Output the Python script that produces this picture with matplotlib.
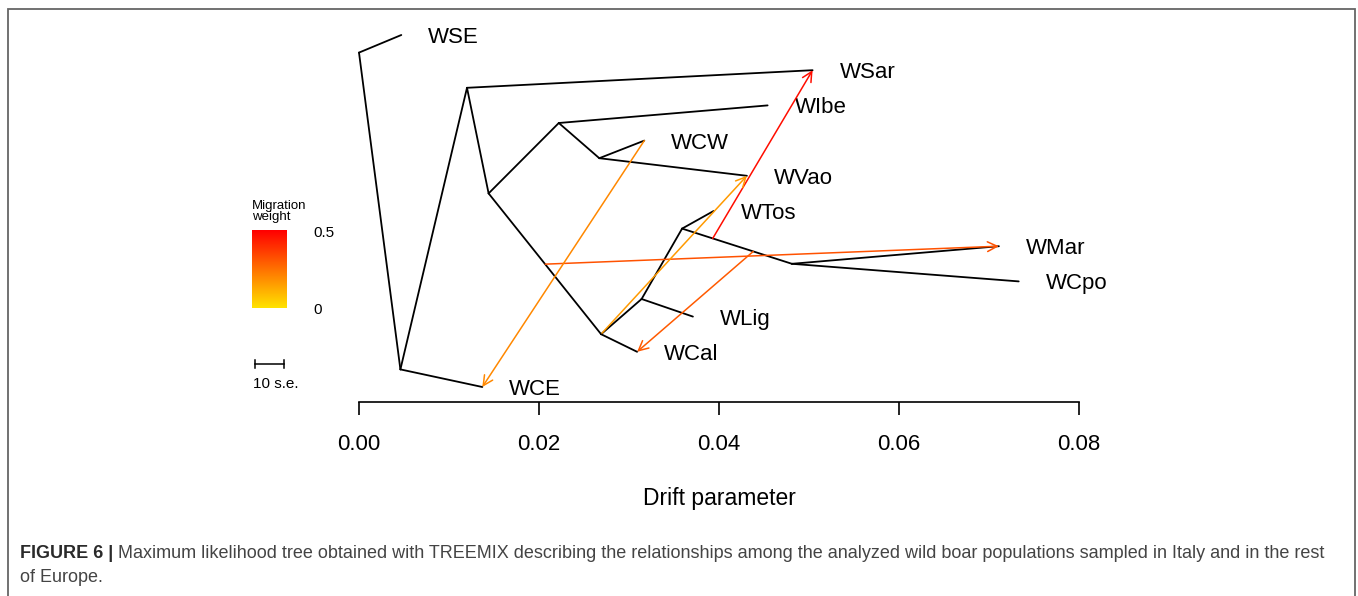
import matplotlib
matplotlib.use("Agg")
import matplotlib.pyplot as plt
import numpy as np
from matplotlib.colors import LinearSegmentedColormap
from matplotlib.patches import Rectangle

plt.rcParams['font.family'] = ['Liberation Sans', 'DejaVu Sans']

# tree nodes: name -> (drift, vertical position)
node_names = ['root', 'A', 'B', 'C', 'D', 'F', 'E', 'G', 'H', 'I',
              'WSE', 'WCE', 'WSar', 'WIbe', 'WCW', 'WVao', 'WCal', 'WLig', 'WTos', 'WMar', 'WCpo']
node_drift = [0.0000, 0.0046, 0.0120, 0.0144, 0.0222, 0.0267, 0.0269, 0.0314, 0.0359, 0.0481,
              0.0047, 0.0137, 0.0504, 0.0454, 0.0317, 0.0431, 0.0309, 0.0371, 0.0394, 0.0711, 0.0733]
node_y = [9.5, 0.5, 8.5, 5.5, 7.5, 6.5, 1.5, 2.5, 4.5, 3.5,
          10, 0, 9, 8, 7, 6, 1, 2, 5, 4, 3]
leaves = ['WSE', 'WSar', 'WIbe', 'WCW', 'WVao', 'WTos', 'WMar', 'WCpo', 'WLig', 'WCal', 'WCE']

edges = [('root', 'WSE'), ('root', 'A'), ('A', 'WCE'), ('A', 'B'), ('B', 'WSar'), ('B', 'C'),
         ('C', 'D'), ('C', 'E'), ('D', 'WIbe'), ('D', 'F'), ('F', 'WCW'), ('F', 'WVao'),
         ('E', 'WCal'), ('E', 'G'), ('G', 'WLig'), ('G', 'H'), ('H', 'WTos'), ('H', 'I'),
         ('I', 'WMar'), ('I', 'WCpo')]

# migration edges: source point (drift, y), target leaf, weight
mig_src_drift = [0.0393, 0.0207, 0.0438, 0.0270, 0.0317]
mig_src_y = [4.22, 3.49, 3.85, 1.53, 7.0]
mig_target = ['WSar', 'WMar', 'WCal', 'WVao', 'WCE']
mig_weight = [0.47, 0.32, 0.30, 0.16, 0.20]

xticks = [0.00, 0.02, 0.04, 0.06, 0.08]

pos = {n: (x, y) for n, x, y in zip(node_names, node_drift, node_y)}
cmap = LinearSegmentedColormap.from_list('mig', ['#FFE200', '#FF0000'])

W, H = 1358, 596
fig = plt.figure(figsize=(W / 100, H / 100), dpi=100)
ax = fig.add_axes([0, 0, 1, 1])

# pixel -> data mapping (9000 px per drift unit, 35.2 px per leaf)
ax.set_xlim(-359 / 9000, (W - 359) / 9000)
ax.set_ylim((387 - H) / 35.2, 387 / 35.2)

for p, c in edges:
    ax.plot([pos[p][0], pos[c][0]], [pos[p][1], pos[c][1]], color='black', lw=1.3,
            solid_capstyle='round')

for leaf in leaves:
    x, y = pos[leaf]
    ax.text(x + 0.003, y, leaf, fontsize=16, ha='left', va='center_baseline')

for sx, sy, tgt, w in zip(mig_src_drift, mig_src_y, mig_target, mig_weight):
    col = cmap(w / 0.5)
    ax.annotate('', xy=pos[tgt], xytext=(sx, sy),
                arrowprops=dict(arrowstyle='->,head_length=0.5,head_width=0.25', color=col,
                                lw=1.1, shrinkA=0, shrinkB=0, mutation_scale=14))

# drift axis
axis_y = (387 - 401.7) / 35.2
for s in ['top', 'left', 'right']:
    ax.spines[s].set_visible(False)
ax.spines['bottom'].set_position(('data', axis_y))
ax.spines['bottom'].set_bounds(xticks[0], xticks[-1])
ax.spines['bottom'].set_linewidth(1.2)
ax.set_xticks(xticks)
ax.set_xticklabels(['%.2f' % t for t in xticks])
ax.tick_params(axis='x', direction='out', length=9, width=1.2, pad=14, labelsize=16)
ax.set_yticks([])
ax.text(0.04, (387 - 496) / 35.2, 'Drift parameter', fontsize=16.5, ha='center',
        va='center_baseline')


def fx(px):
    return px / W


def fy(py):
    return 1 - py / H


# migration weight legend
fig.text(fx(252), fy(206), 'Migration', fontsize=9.5, va='center')
fig.text(fx(252), fy(217), 'weight', fontsize=9.5, va='center')
cax = fig.add_axes([fx(252), fy(308), fx(287) - fx(252), fy(230) - fy(308)])
cax.imshow(np.linspace(1, 0, 100).reshape(-1, 1), aspect='auto', cmap=cmap)
cax.set_axis_off()
fig.text(fx(313), fy(231), '0.5', fontsize=11, va='center_baseline')
fig.text(fx(313), fy(308), '0', fontsize=11, va='center_baseline')

# scale bar
fig.add_artist(plt.Line2D([fx(255), fx(284)], [fy(364), fy(364)], color='black', lw=1.1))
for bx in [255, 284]:
    fig.add_artist(plt.Line2D([fx(bx), fx(bx)], [fy(360), fy(368)], color='black', lw=1.1))
fig.text(fx(253), fy(382), '10 s.e.', fontsize=11, va='center_baseline')

# caption
t1 = fig.text(fx(20), fy(554), 'FIGURE 6 |', fontsize=13, fontweight='bold', color='#2a2a2a',
              va='center')
ax.annotate(' Maximum likelihood tree obtained with TREEMIX describing the relationships among the '
            'analyzed wild boar populations sampled in Italy and in the rest',
            xy=(1, 0.5), xycoords=t1, va='center', ha='left', fontsize=13, color='#444444')
fig.text(fx(20), fy(578), 'of Europe.', fontsize=13, color='#444444', va='center')

# frame around figure
fig.add_artist(Rectangle((fx(8), fy(605)), fx(1355) - fx(8), fy(9) - fy(605),
                         transform=fig.transFigure, fill=False, edgecolor='#666666', lw=1.3))

fig.savefig('out.png', dpi=100)
